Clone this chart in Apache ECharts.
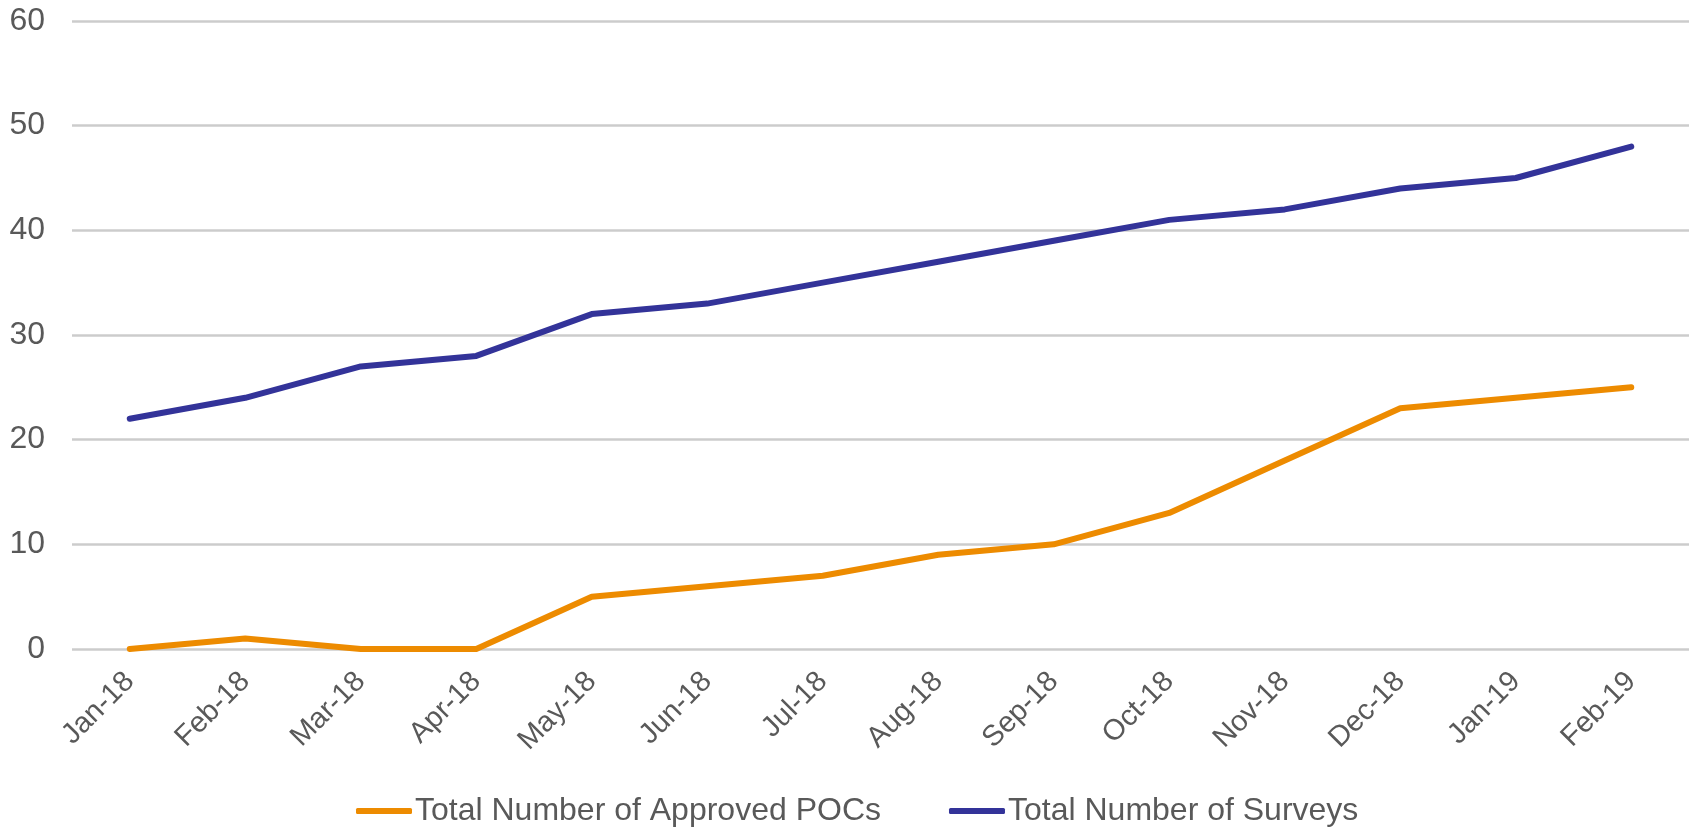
<!DOCTYPE html>
<html>
<head>
<meta charset="utf-8">
<script src="https://cdn.jsdelivr.net/npm/echarts@6/dist/echarts.min.js"></script>
<style>
html,body{margin:0;padding:0;background:#fff;}
#chart{width:1694px;height:829px;}
</style>
</head>
<body>
<div id="chart"></div>
<script>
const categories = ['Jan-18','Feb-18','Mar-18','Apr-18','May-18','Jun-18','Jul-18','Aug-18','Sep-18','Oct-18','Nov-18','Dec-18','Jan-19','Feb-19'];
const approvedPOCs = [0, 1, 0, 0, 5, 6, 7, 9, 10, 13, 18, 23, 24, 25];
const surveys = [22, 24, 27, 28, 32, 33, 35, 37, 39, 41, 42, 44, 45, 48];
const seriesNames = ['Total Number of Approved POCs', 'Total Number of Surveys'];

const chart = echarts.init(document.getElementById('chart'), null, {renderer: 'canvas'});
const font = 'Liberation Sans, Arial, sans-serif';
chart.setOption({
  animation: false,
  backgroundColor: '#ffffff',
  grid: {left: 72, right: 5, top: 21, bottom: 180, containLabel: false},
  legend: {
    bottom: -3,
    left: 351,
    itemGap: 68,
    itemWidth: 56,
    itemHeight: 6,
    icon: 'roundRect',
    textStyle: {fontFamily: font, fontSize: 32, color: '#595959', padding: [0, 0, 0, -2]},
    data: seriesNames
  },
  xAxis: {
    type: 'category',
    data: categories,
    boundaryGap: true,
    axisLine: {show: false},
    axisTick: {show: false},
    axisLabel: {rotate: 45, margin: 28, fontFamily: font, fontSize: 29, color: '#595959', interval: 0}
  },
  yAxis: {
    type: 'value',
    min: 0, max: 60, interval: 10,
    axisLine: {show: false},
    axisTick: {show: false},
    axisLabel: {margin: 27, fontFamily: font, fontSize: 32, color: '#595959'},
    splitLine: {lineStyle: {color: '#cccccc', width: 2.5}}
  },
  series: [
    {
      name: seriesNames[0], type: 'line', data: approvedPOCs,
      symbol: 'none', color: '#ED8B00',
      lineStyle: {width: 6, color: '#ED8B00', cap: 'round', join: 'round'}
    },
    {
      name: seriesNames[1], type: 'line', data: surveys,
      symbol: 'none', color: '#333399',
      lineStyle: {width: 6, color: '#333399', cap: 'round', join: 'round'}
    }
  ]
});
</script>
</body>
</html>
